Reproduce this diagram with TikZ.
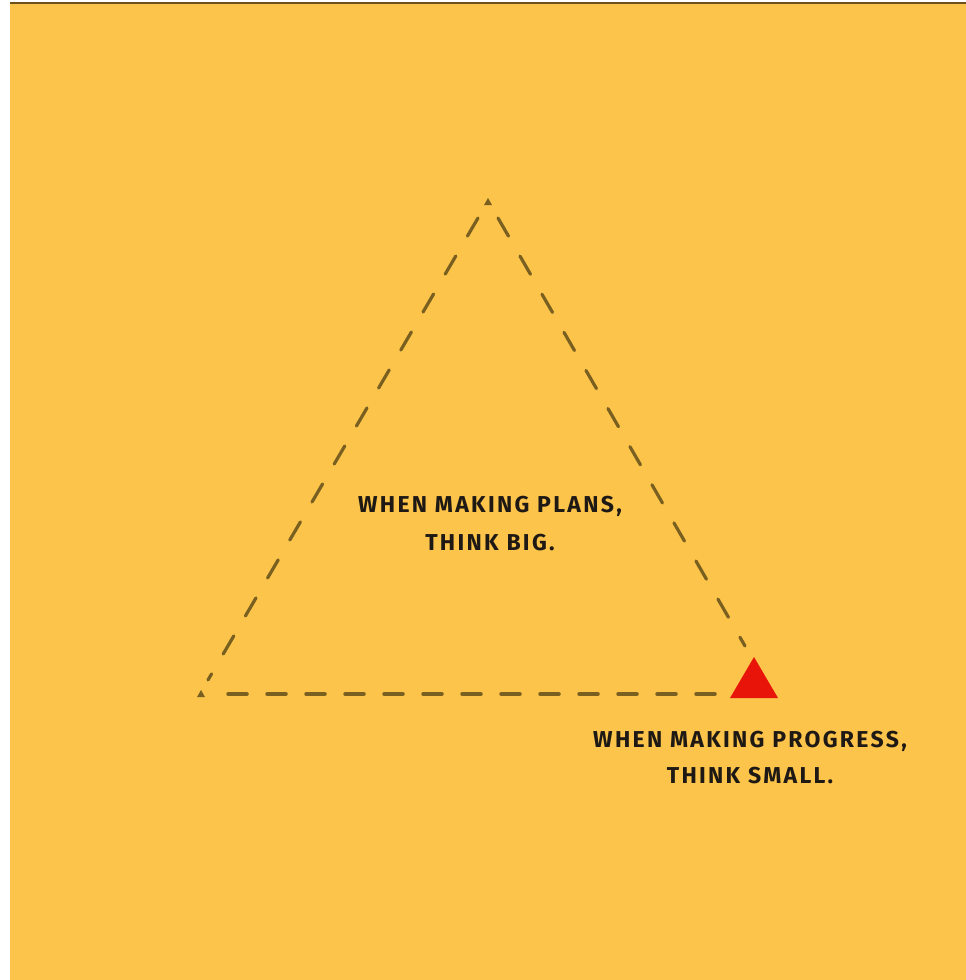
\documentclass[tikz,border=0pt]{standalone}
\usepackage{fontspec}
\setmainfont{Fira Sans}[LetterSpace=10]
\begin{document}
\begin{tikzpicture}[x=1pt,y=-1pt,
  dashline/.style={draw=dashcol,line width=3.5pt,dash pattern=on 19pt off 20pt,line cap=round},
  diagline/.style={draw=dashcol,line width=3.2pt,dash pattern=on 21pt off 23pt,line cap=round},
  caption/.style={font=\fontsize{23}{38}\selectfont\bfseries,text=textcol,align=center,inner sep=0pt},
  corner/.style={fill=dashcol,draw=none}]
\definecolor{bgyellow}{RGB}{252,196,74}
\definecolor{dashcol}{RGB}{122,96,32}
\definecolor{textcol}{RGB}{30,25,20}
\definecolor{redtri}{RGB}{232,20,10}
\useasboundingbox (0,0) rectangle (966,980);
\fill[white] (0,0) rectangle (966,980);
\fill[bgyellow] (10,3) rectangle (966,980);
\draw[line width=1.5pt,color={rgb,255:red,110;green,80;blue,30}] (10,3) -- (966,3);
% corners
\coordinate (apex) at (488,200);
\coordinate (bl) at (201,694);
\coordinate (rtop) at (745,646);
\coordinate (bend) at (716,694);
\draw[diagline] (498,218) -- (rtop);
\draw[diagline] (478,218) -- (208,680);
\draw[dashline] (228,694) -- (bend);
\fill[corner] (484,205) -- (492,205) -- (488,198) -- cycle;
\fill[corner] (197,697) -- (205,697) -- (201,690) -- cycle;
\fill[redtri] (730,698) -- (778,698) -- (754,657) -- cycle;
\node[caption] (plans) at (490,524) {WHEN MAKING PLANS,\\THINK BIG.};
\node[caption,font=\fontsize{23}{36}\selectfont\bfseries] (prog) at (750,758) {WHEN MAKING PROGRESS,\\THINK SMALL.};
\end{tikzpicture}
\end{document}
